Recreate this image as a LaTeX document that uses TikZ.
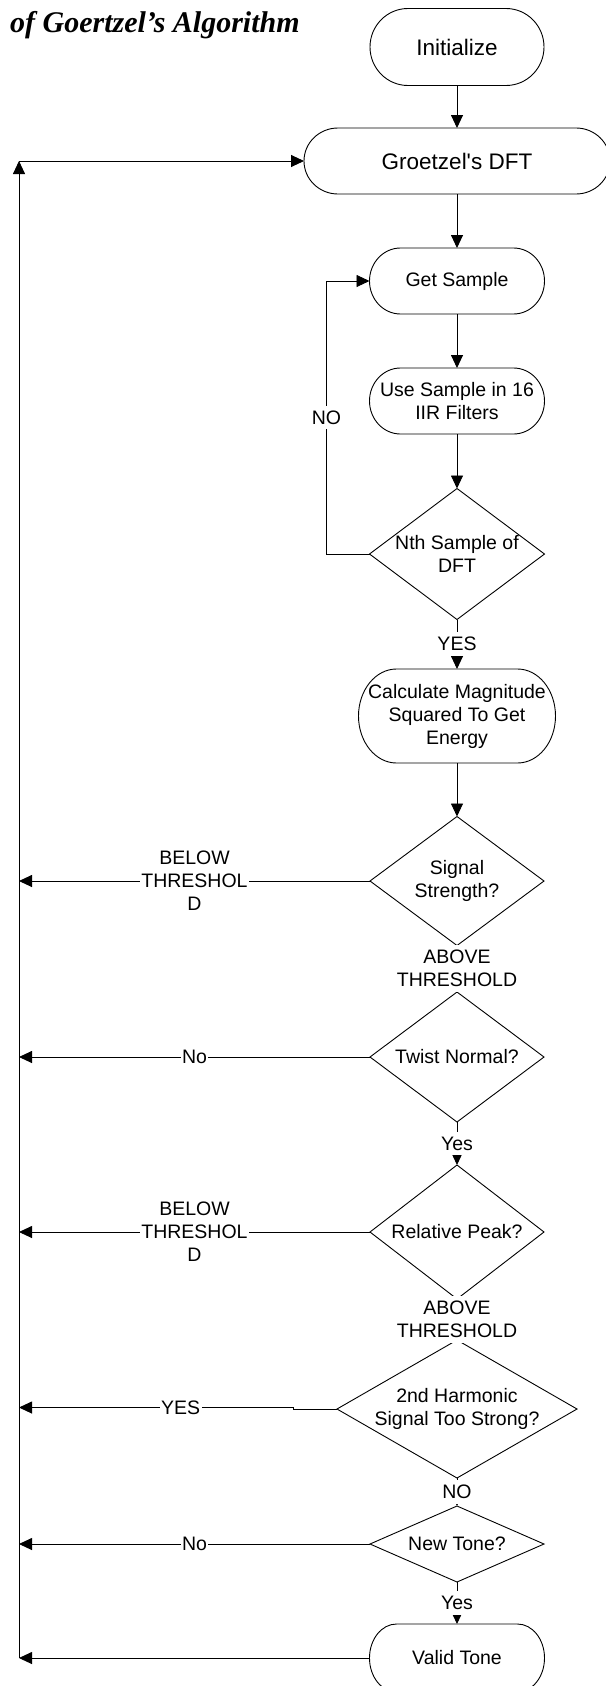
\documentclass[tikz,border=0pt]{standalone}
\usepackage{fontspec}
\setmainfont{Liberation Sans}
\newfontfamily\titlefont{Liberation Serif}
\usetikzlibrary{arrows.meta,shapes.geometric,calc}

\begin{document}
\begin{tikzpicture}[x=1pt,y=-1pt,
  every node/.style={font=\fontsize{19.5}{23}\selectfont},
  line/.style={draw, line width=0.9pt},
  arr/.style={line, -{Triangle[length=13pt,width=12pt]}},
  term/.style={rectangle, inner sep=0pt, outer sep=0pt, align=center},
  bigtext/.style={font=\fontsize{22.5}{26}\selectfont},
  decision/.style={diamond, draw, line width=0.9pt, inner sep=0pt, outer sep=0pt, align=center},
  lbl/.style={fill=white, inner xsep=1.5pt, inner ysep=5pt, align=center}]

\useasboundingbox (0,0) rectangle (605,1686);

% heading
\node[anchor=base west, inner sep=0pt,
      font=\titlefont\bfseries\itshape\fontsize{30}{34}\selectfont] (title) at (10,33)
      {of Goertzel’s Algorithm};

% process boxes and decisions
\node[term, bigtext, minimum width=174pt, minimum height=77pt] (init) at (457,47) {Initialize};
\node[term, bigtext, minimum width=306pt, minimum height=66pt] (dft) at (457,161) {Groetzel\textquotesingle s DFT};
\node[term, minimum width=175pt, minimum height=66pt] (get) at (457,281) {Get Sample};
\node[term, minimum width=175pt, minimum height=66pt] (use) at (457,401) {Use Sample in 16\\IIR Filters};
\node[decision, minimum width=175pt, minimum height=131pt, aspect=1.336] (nth) at (457,554) {Nth Sample of\\DFT};
\node[term, minimum width=197pt, minimum height=94pt] (calc) at (457,716) {Calculate Magnitude\\Squared To Get\\Energy};
\node[decision, minimum width=174pt, minimum height=129pt, aspect=1.35] (sig) at (457,881) {Signal\\Strength?};
\node[decision, minimum width=174pt, minimum height=130pt, aspect=1.34] (twist) at (457,1057) {Twist Normal?};
\node[decision, minimum width=174pt, minimum height=134pt, aspect=1.3] (rel) at (457,1232) {Relative Peak?};
\node[decision, minimum width=240pt, minimum height=138pt, aspect=1.74] (harm) at (457,1409) {2nd Harmonic\\Signal Too Strong?};
\node[decision, minimum width=174pt, minimum height=76pt, aspect=2.29] (newt) at (457,1544) {New Tone?};
\node[term, minimum width=175pt, minimum height=68pt] (valid) at (457,1658) {Valid Tone};

% terminator outlines with elliptic ends
\foreach \nm/\r in {init/38pt, dft/34pt, get/31pt, use/31pt, calc/38pt, valid/27pt}{
  \draw[line width=0.9pt] let \p1=(\nm.north), \p2=(\nm.south), \n1={(\y1-\y2)/2} in
    ([xshift=\r]\nm.north west) -- ([xshift=-\r]\nm.north east)
    arc[start angle=90, end angle=-90, x radius=\r, y radius=\n1]
    -- ([xshift=\r]\nm.south west)
    arc[start angle=270, end angle=90, x radius=\r, y radius=\n1] -- cycle;
}

% main flow
\draw[arr] (init.south) -- (dft.north);
\draw[arr] (dft.south) -- (get.north);
\draw[arr] (get.south) -- (use.north);
\draw[arr] (use.south) -- (nth.north);
\draw[arr] (nth.south) -- node[lbl]{YES} (calc.north);
\draw[arr] (calc.south) -- (sig.north);
\draw[arr] (sig.south) -- node[lbl]{ABOVE\\THRESHOLD} (twist.north);
\draw[arr] (twist.south) -- node[lbl]{Yes} (rel.north);
\draw[arr] (rel.south) -- node[lbl]{ABOVE\\THRESHOLD} (harm.north);
\draw[arr] (harm.south) -- node[lbl]{NO} (newt.north);
\draw[arr] (newt.south) -- node[lbl]{Yes} (valid.north);

% sample loop
\draw[arr] (nth.west) -- ++(-43,0) |- node[lbl, pos=0.25]{NO} (get.west);

% return trunk on the left
\coordinate (trunkx) at (19,0);
\draw[arr] (valid.west -| trunkx) -- (dft.west -| trunkx);
\draw[arr] (dft.west -| trunkx) -- (dft.west);
\draw[arr] (sig.west) -- node[lbl]{BELOW\\THRESHOL\\D} (sig.west -| trunkx);
\draw[arr] (twist.west) -- node[lbl]{No} (twist.west -| trunkx);
\draw[arr] (rel.west) -- node[lbl]{BELOW\\THRESHOL\\D} (rel.west -| trunkx);
\draw[arr] (harm.west) -- ++(-44,0) -- ++(0,-1.5)
      -- node[lbl, pos=0.41]{YES} ($(harm.west -| trunkx)+(0,-1.5)$);
\draw[arr] (newt.west) -- node[lbl]{No} (newt.west -| trunkx);
\draw[arr] (valid.west) -- (valid.west -| trunkx);

\end{tikzpicture}
\end{document}
